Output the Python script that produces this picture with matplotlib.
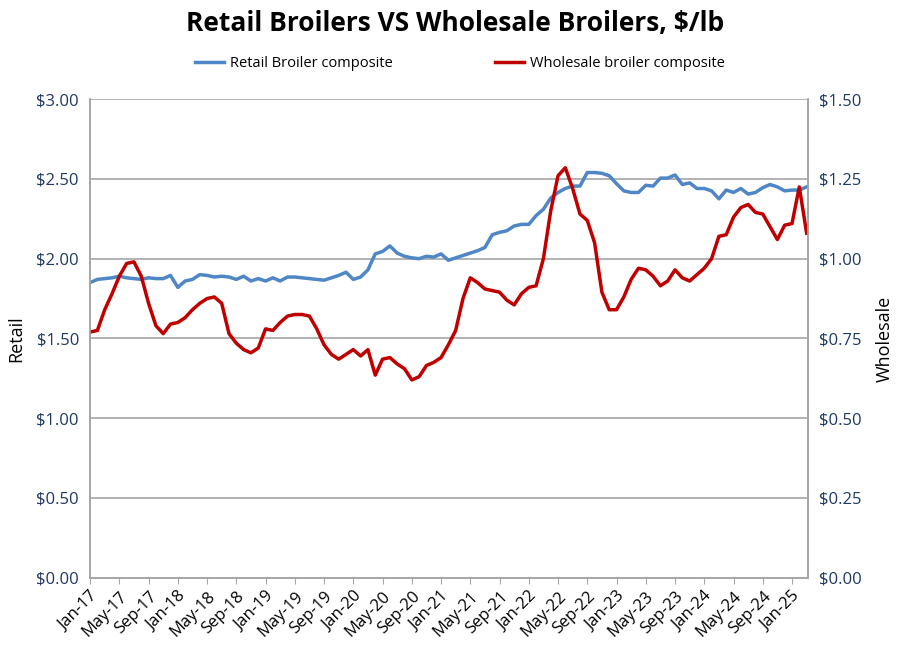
import matplotlib
matplotlib.use("Agg")
import matplotlib.pyplot as plt
import pandas as pd
from matplotlib.ticker import FuncFormatter

plt.rcParams["font.family"] = "Open Sans"

months = pd.date_range("2017-01-01", periods=99, freq="MS")
month_labels = [d.strftime("%b-%y") for d in months]

retail = [1.85, 1.87, 1.875, 1.88, 1.89, 1.88, 1.875, 1.87, 1.88, 1.875,
          1.875, 1.895, 1.82, 1.86, 1.87, 1.90, 1.895, 1.885, 1.89, 1.885,
          1.87, 1.89, 1.86, 1.875, 1.86, 1.88, 1.86, 1.885, 1.885, 1.88,
          1.875, 1.87, 1.865, 1.88, 1.895, 1.915, 1.87, 1.885, 1.93, 2.03,
          2.045, 2.08, 2.035, 2.015, 2.005, 2.0, 2.015, 2.01, 2.03, 1.99,
          2.005, 2.02, 2.035, 2.05, 2.07, 2.15, 2.165, 2.175, 2.205, 2.215,
          2.215, 2.27, 2.31, 2.38, 2.415, 2.44, 2.455, 2.455, 2.54, 2.54,
          2.535, 2.52, 2.47, 2.425, 2.415, 2.415, 2.46, 2.455, 2.505, 2.505,
          2.525, 2.465, 2.475, 2.44, 2.44, 2.425, 2.375, 2.43, 2.415, 2.44,
          2.405, 2.415, 2.445, 2.465, 2.45, 2.425, 2.43, 2.43, 2.45]

wholesale = [0.77, 0.775, 0.84, 0.89, 0.945, 0.985, 0.99, 0.945, 0.86, 0.79,
             0.765, 0.795, 0.80, 0.815, 0.84, 0.86, 0.875, 0.88, 0.86, 0.765,
             0.735, 0.715, 0.705, 0.72, 0.78, 0.775, 0.80, 0.82, 0.825, 0.825,
             0.82, 0.78, 0.73, 0.70, 0.685, 0.70, 0.715, 0.695, 0.715, 0.635,
             0.685, 0.69, 0.67, 0.655, 0.62, 0.63, 0.665, 0.675, 0.69, 0.73,
             0.775, 0.875, 0.94, 0.925, 0.905, 0.90, 0.895, 0.87, 0.855, 0.89,
             0.91, 0.915, 1.0, 1.15, 1.26, 1.285, 1.22, 1.14, 1.12, 1.05,
             0.895, 0.84, 0.84, 0.88, 0.935, 0.97, 0.965, 0.945, 0.915, 0.93,
             0.965, 0.94, 0.93, 0.95, 0.97, 1.0, 1.07, 1.075, 1.13, 1.16,
             1.17, 1.145, 1.14, 1.10, 1.06, 1.105, 1.11, 1.225, 1.08]

navy = "#1F3864"
x = list(range(len(months)))

fig = plt.figure(figsize=(9.1, 6.61), dpi=100)
ax = fig.add_axes([0.099, 0.126, 0.789, 0.724])
ax2 = ax.twinx()

l1, = ax.plot(x, retail, color="#4F86C6", lw=2.5, label="Retail Broiler composite")
l2, = ax2.plot(x, wholesale, color="#C00000", lw=2.5, label="Wholesale broiler composite")

ax.set_xlim(0, len(x) - 0.8)
ax.set_ylim(0, 3.0)
ax2.set_ylim(0, 1.5)
ax.set_yticks([0, 0.5, 1.0, 1.5, 2.0, 2.5, 3.0])
ax2.set_yticks([0, 0.25, 0.5, 0.75, 1.0, 1.25, 1.5])
ax.yaxis.set_major_formatter(FuncFormatter(lambda v, p: f"${v:.2f}"))
ax2.yaxis.set_major_formatter(FuncFormatter(lambda v, p: f"${v:.2f}"))
ax.grid(axis="y", color="#A6A6A6", lw=1.2)
ax.set_axisbelow(True)

ax.set_xticks(x[::4])
ax.set_xticklabels(month_labels[::4], rotation=45, ha="right", rotation_mode="anchor", fontsize=12)

for a in (ax, ax2):
    for s in a.spines.values():
        s.set_color("#A6A6A6")
        s.set_linewidth(1.2)
    a.tick_params(axis="y", labelsize=12, labelcolor=navy, length=0, pad=8)
ax.spines["top"].set_visible(False)
ax2.spines["top"].set_visible(False)
ax.tick_params(axis="x", length=4, color="#A6A6A6")

ax.set_ylabel("Retail", fontsize=13, labelpad=8)
ax2.set_ylabel("Wholesale", fontsize=13, labelpad=10)

fig.suptitle("Retail Broilers VS Wholesale Broilers, $/lb", fontsize=19, fontweight="bold", y=0.985)
fig.legend(handles=[l1, l2], loc="upper center", bbox_to_anchor=(0.505, 0.935), ncol=2,
           frameon=False, fontsize=10.5, columnspacing=7, handlelength=2, handletextpad=0.4)

fig.savefig("out.png", dpi=100)
